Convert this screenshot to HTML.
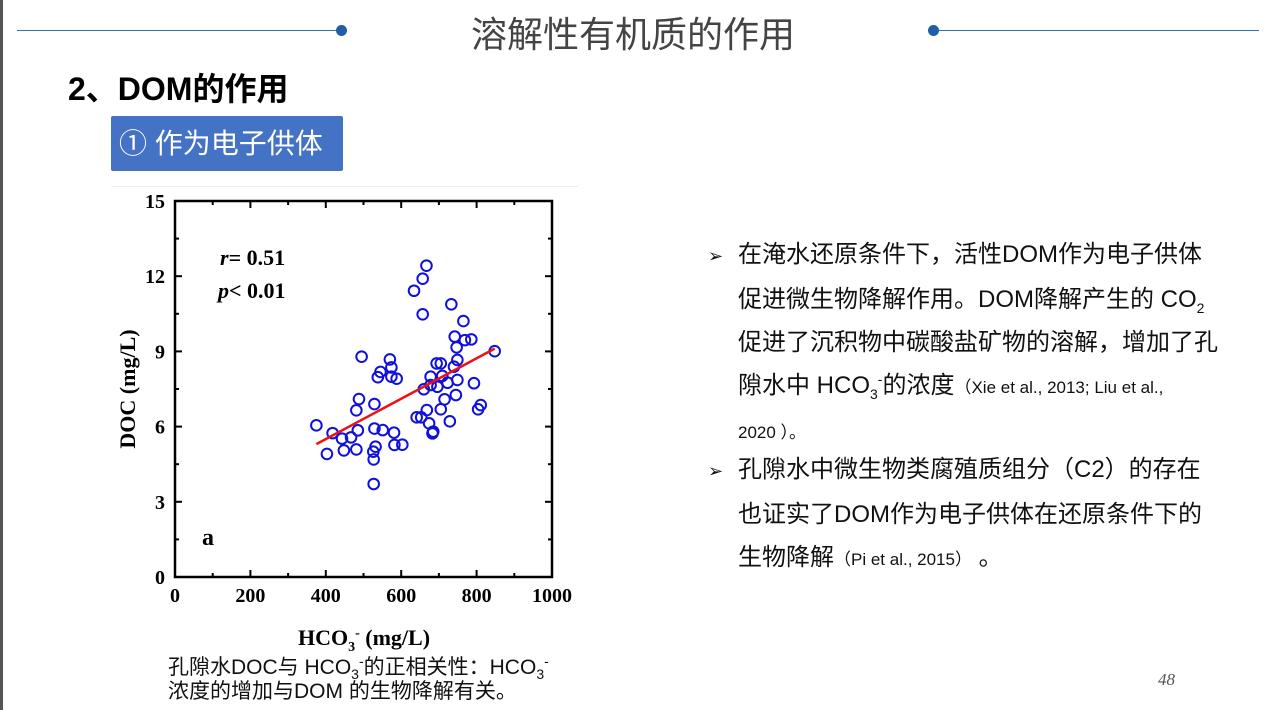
<!DOCTYPE html>
<html><head><meta charset="utf-8"><style>
body{margin:0;width:1270px;height:710px;background:#fff;position:relative;overflow:hidden;font-family:"Liberation Sans","Noto Sans CJK SC",sans-serif;}
.abs{position:absolute;white-space:nowrap;}
.rt{font-size:24px;color:#111;line-height:43px;}
.rt sub,.rt sup,.cap sub,.cap sup{font-size:14px;line-height:0;}
.ref{font-size:17px;}
.cap{font-size:21px;color:#111;line-height:24px;}
.ind{padding-left:30px}
</style></head><body>
<div class="abs" style="left:0;top:0;width:3px;height:710px;background:#555"></div>
<div class="abs" style="left:17px;top:30px;width:326px;height:1px;background:#2e75b6"></div>
<div class="abs" style="left:336px;top:25px;width:11px;height:11px;border-radius:50%;background:#1f5fa8"></div>
<div class="abs" style="left:933px;top:30px;width:326px;height:1px;background:#2e75b6"></div>
<div class="abs" style="left:928px;top:25px;width:11px;height:11px;border-radius:50%;background:#1f5fa8"></div>
<div class="abs" style="left:471px;top:6px;font-size:36px;color:#444">溶解性有机质的作用</div>
<div class="abs" style="left:68px;top:64px;font-size:32px;font-weight:bold;color:#000">2、DOM的作用</div>
<div class="abs" style="left:111px;top:116px;width:232px;height:55px;background:#4472c4;border-radius:2px;color:#fff;font-size:28px;line-height:55px;text-indent:8px">① 作为电子供体</div>
<div class="abs" style="left:111px;top:186px;width:467px;height:1px;background:#eee"></div>

<svg class="abs" style="left:0;top:0" width="1270" height="710" font-family="Liberation Serif,serif">
<g id="chart"></g>
</svg>

<div class="abs rt" style="left:708px;top:233px">
<span style="display:inline-block;width:30px;font-size:18px">➢</span>在淹水还原条件下，活性DOM作为电子供体<br>
<span class="ind">促进微生物降解作用。DOM降解产生的 CO<sub>2</sub></span><br>
<span class="ind">促进了沉积物中碳酸盐矿物的溶解，增加了孔</span><br>
<span class="ind">隙水中 HCO<sub>3</sub><sup>-</sup>的浓度<span class="ref">（Xie et al., 2013; Liu et al.,</span></span><br>
<span class="ind ref">2020 ）。</span></div>
<div class="abs rt" style="left:708px;top:448px">
<span style="display:inline-block;width:30px;font-size:18px">➢</span>孔隙水中微生物类腐殖质组分（C2）的存在<br>
<span class="ind">也证实了DOM作为电子供体在还原条件下的</span><br>
<span class="ind">生物降解<span class="ref">（Pi et al., 2015）</span> 。</span></div>
<div class="abs cap" style="left:168px;top:656px">孔隙水DOC与 HCO<sub>3</sub><sup>-</sup>的正相关性：HCO<sub>3</sub><sup>-</sup><br>浓度的增加与DOM 的生物降解有关。</div>
<div class="abs" style="left:1158px;top:670px;font-size:17px;font-style:italic;color:#555;font-family:'Liberation Serif',serif">48</div>

<script>
const xTicks=[0,200,400,600,800,1000];
const yTicks=[0,3,6,9,12,15];
const hco3=[667,657,634,657,733,765,742,769,786,747,848,495,570,574,545,538,574,588,694,705,749,740,678,709,749,723,793,678,696,660,488,481,529,745,715,705,811,804,375,641,653,668,674,729,418,443,467,485,529,551,581,685,683,403,448,481,582,603,532,526,527,527];
const doc=[12.42,11.90,11.42,10.48,10.88,10.21,9.59,9.45,9.48,9.16,9.01,8.79,8.68,8.36,8.18,7.97,7.99,7.91,8.52,8.52,8.66,8.39,7.99,8.02,7.86,7.75,7.73,7.66,7.59,7.49,7.10,6.65,6.90,7.26,7.09,6.69,6.86,6.69,6.05,6.37,6.37,6.66,6.13,6.21,5.74,5.52,5.57,5.85,5.92,5.86,5.76,5.80,5.73,4.91,5.05,5.09,5.27,5.28,5.20,5.00,4.69,3.71];
const fitX=[375,848];
const fitY=[5.30,9.11];
const L=175,R=552,T=201,B=577;
const sx=v=>L+(v-0)/(1000-0)*(R-L);
const sy=v=>B-(v-0)/(15-0)*(B-T);
const g=document.getElementById('chart');
const NS='http://www.w3.org/2000/svg';
function mk(t,a){const e=document.createElementNS(NS,t);for(const k in a)e.setAttribute(k,a[k]);g.appendChild(e);return e;}
let e=mk('rect',{x:L,y:T,width:R-L,height:B-T,fill:'none',stroke:'#000','stroke-width':2.5});


for(let i=0;i<=10;i++){const v=i*100,x=sx(v),len=i%2?4:7;
 mk('line',{x1:x,x2:x,y1:B,y2:B-len,stroke:'#000','stroke-width':2});
 mk('line',{x1:x,x2:x,y1:T,y2:T+len,stroke:'#000','stroke-width':2});}
for(let i=0;i<=10;i++){const v=i*1.5,y=sy(v),len=i%2?4:7;
 mk('line',{x1:L,x2:L+len,y1:y,y2:y,stroke:'#000','stroke-width':2});
 mk('line',{x1:R,x2:R-len,y1:y,y2:y,stroke:'#000','stroke-width':2});}
xTicks.forEach(v=>{const t=mk('text',{x:sx(v),y:602,'text-anchor':'middle','font-size':20,'font-weight':'bold'});t.textContent=v;
 
 });
yTicks.forEach(v=>{const t=mk('text',{x:165,y:sy(v)+7,'text-anchor':'end','font-size':20,'font-weight':'bold'});t.textContent=v;
 
 });
hco3.forEach((v,i)=>{const c=mk('circle',{cx:sx(v),cy:sy(doc[i]),r:5.3,fill:'none',stroke:'#1010dd','stroke-width':2});
 
 });
e=mk('line',{x1:sx(fitX[0]),y1:sy(fitY[0]),x2:sx(fitX[1]),y2:sy(fitY[1]),stroke:'#ee1111','stroke-width':2.5});


e=mk('text',{x:364,y:645,'text-anchor':'middle','font-size':22,'font-weight':'bold'});
e.innerHTML='HCO<tspan font-size="14" dy="6">3</tspan><tspan font-size="14" dy="-14">-</tspan><tspan dy="8"> (mg/L)</tspan>';


e=mk('text',{x:0,y:0,'text-anchor':'middle','font-size':22,'font-weight':'bold',transform:'translate(135,389) rotate(-90)'});
e.textContent='DOC (mg/L)';


e=mk('text',{x:220,y:265,'font-size':22,'font-weight':'bold'});
e.innerHTML='<tspan font-style="italic">r</tspan>= 0.51';


e=mk('text',{x:218,y:298,'font-size':22,'font-weight':'bold'});
e.innerHTML='<tspan font-style="italic">p</tspan>&lt; 0.01';


e=mk('text',{x:202,y:545,'font-size':24,'font-weight':'bold'});
e.textContent='a';


</script>
</body></html>
